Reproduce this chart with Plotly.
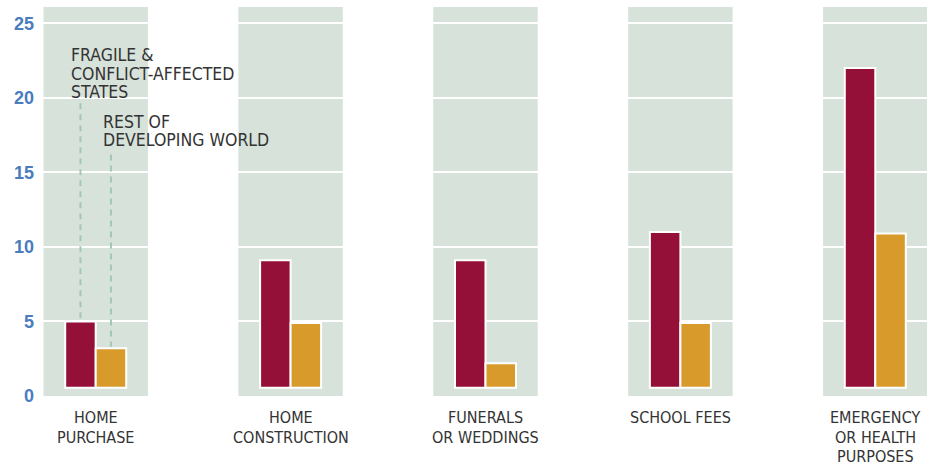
import plotly.graph_objects as go
import numpy as np

categories = ["HOME<br>PURCHASE", "HOME<br>CONSTRUCTION", "FUNERALS<br>OR WEDDINGS",
              "SCHOOL FEES", "EMERGENCY<br>OR HEALTH<br>PURPOSES"]
fragile = [5.0, 9.1, 9.1, 11.0, 22.0]
rest = [3.2, 4.9, 2.2, 4.9, 10.9]
series_names = ["FRAGILE &<br>CONFLICT-AFFECTED<br>STATES", "REST OF<br>DEVELOPING WORLD"]
y_ticks = [0, 5, 10, 15, 20, 25]

CRIMSON = "#941039"
ORANGE = "#d89a2b"
PANEL = "#d7e2db"
BLUE = "#4a7cbe"
TEXT = "#333333"
DASH = "#a2c8b2"
FONT = "DejaVu Sans Condensed, Arial Narrow, sans-serif"

BASE = 0.55
BARGAP = 0.687
x = np.arange(len(categories))
half = 0.268
offset = (1 - BARGAP) / 4

fig = go.Figure()
for vals, col, name in [(fragile, CRIMSON, series_names[0]), (rest, ORANGE, series_names[1])]:
    v = np.array(vals)
    fig.add_trace(go.Bar(x=x, y=v - BASE, base=BASE, name=name,
                         marker=dict(color=col, line=dict(color="white", width=2)),
                         showlegend=False))

for i in x:
    fig.add_shape(type="rect", xref="x", yref="y", x0=i - half, x1=i + half, y0=0, y1=26.1,
                  fillcolor=PANEL, line_width=0, layer="below")

# leader lines
fig.add_shape(type="line", xref="x", yref="y", x0=-offset, x1=-offset, y0=19.64, y1=fragile[0] + 0.1,
              line=dict(color=DASH, width=2, dash="6px,5px"))
fig.add_shape(type="line", xref="x", yref="y", x0=offset, x1=offset, y0=16.2, y1=rest[0] + 0.1,
              line=dict(color=DASH, width=2, dash="6px,5px"))

def add_lines(xv, yv, text, first_shift, pitch, xanchor, xshift=0, size=18):
    for k, line in enumerate(text.split("<br>")):
        fig.add_annotation(x=xv, y=yv, xref="x", yref="y", text=line, showarrow=False,
                           xanchor=xanchor, yanchor="middle", xshift=xshift,
                           yshift=first_shift - k * pitch, borderpad=0,
                           font=dict(family=FONT, size=size, color=TEXT))

for i, c in zip(x, categories):
    add_lines(i, 0, c, -21.5, 19.5, "center", size=16)

add_lines(-offset, 19.64, series_names[0], 48, 18.5, "left", xshift=-10, size=17.5)
add_lines(offset, 16.2, series_names[1], 33, 18.5, "left", xshift=-9, size=17.5)

fig.update_layout(
    width=927, height=468,
    margin=dict(l=43, r=0, t=7, b=72, autoexpand=False),
    paper_bgcolor="white", plot_bgcolor="white",
    barmode="group", bargap=BARGAP, bargroupgap=0,
    xaxis=dict(range=[-0.2704, 4.2653], showticklabels=False, showgrid=False,
               zeroline=False, showline=False, automargin=False),
    yaxis=dict(range=[0, 26.1], tickvals=y_ticks, showgrid=True, gridcolor="white",
               gridwidth=2, zeroline=False, showline=False, ticks="", automargin=False,
               ticklabelstandoff=8,
               tickfont=dict(family="Liberation Sans, Arial, sans-serif", size=18,
                             color=BLUE, weight="bold")),
)

fig.write_html("out.html", config={"displayModeBar": False},
               post_script="document.body.style.margin='0';document.body.style.overflow='hidden';")
